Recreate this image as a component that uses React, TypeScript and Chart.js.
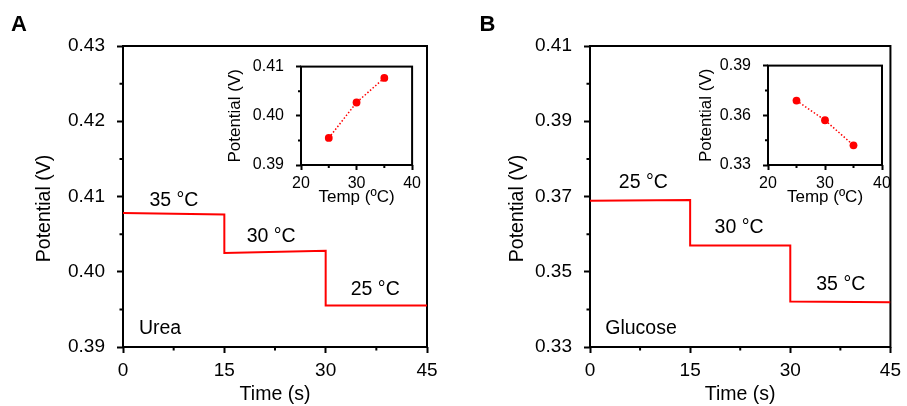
import React, { useEffect, useRef } from 'react';
import { Chart, registerables } from 'chart.js';

Chart.register(...registerables);

const FONT = '"Liberation Sans", Arial, Helvetica, sans-serif';
const RED = 'rgb(255, 0, 0)';

// ---------- Panel A (Urea) ----------
const timeA = [0, 15, 15, 30, 30, 45];
const potA = [0.4078, 0.4076, 0.4025, 0.4028, 0.3955, 0.3955];
const yTicksA = [0.39, 0.4, 0.41, 0.42, 0.43];
const yMinorA = [0.395, 0.405, 0.415, 0.425];
const annoTextA = ['35 °C', '30 °C', '25 °C', 'Urea'];
const annoXA = [7.54, 21.93, 37.34, 5.48];
const annoYA = [0.4088, 0.40394, 0.39695, 0.39177];

const insetTempA = [25, 30, 35];
const insetPotA = [0.3955, 0.4027, 0.4077];
const insetYTicksA = [0.39, 0.4, 0.41];
const insetYMinorA = [0.395, 0.405];

// ---------- Panel B (Glucose) ----------
const timeB = [0, 15, 15, 30, 30, 45];
const potB = [0.3689, 0.3691, 0.357, 0.357, 0.3421, 0.3419];
const yTicksB = [0.33, 0.35, 0.37, 0.39, 0.41];
const yMinorB = [0.34, 0.36, 0.38, 0.4];
const annoTextB = ['25 °C', '30 °C', '35 °C', 'Glucose'];
const annoXB = [7.99, 22.33, 37.56, 7.64];
const annoYB = [0.37223, 0.36028, 0.34522, 0.33353];

const insetTempB = [25, 30, 35];
const insetPotB = [0.3689, 0.357, 0.3419];
const insetYTicksB = [0.33, 0.36, 0.39];
const insetYMinorB = [0.345, 0.375];

// ---------- shared axes ----------
const timeTicks = [0, 15, 30, 45];
const timeMinor = [7.5, 22.5, 37.5];
const tempTicks = [20, 30, 40];
const tempMinor = [25, 35];

const decor = {
  id: 'decor',
  beforeDatasetsDraw(chart: any, _a: any, o: any) {
    const { ctx, chartArea: a } = chart;
    const xs = chart.scales.x;
    const ys = chart.scales.y;
    ctx.save();
    ctx.strokeStyle = '#000';
    ctx.lineWidth = o.frameWidth;
    ctx.strokeRect(a.left, a.top, a.right - a.left, a.bottom - a.top);
    ctx.lineWidth = o.tickWidth;
    ctx.beginPath();
    o.xMinor.forEach((v: number) => {
      const p = xs.getPixelForValue(v);
      ctx.moveTo(p, a.bottom);
      ctx.lineTo(p, a.bottom + o.minorLen);
    });
    o.yMinor.forEach((v: number) => {
      const p = ys.getPixelForValue(v);
      ctx.moveTo(a.left, p);
      ctx.lineTo(a.left - o.minorLen, p);
    });
    ctx.stroke();
    ctx.restore();
  },
  afterDraw(chart: any, _a: any, o: any) {
    const { ctx, chartArea: a } = chart;
    const xs = chart.scales.x;
    const ys = chart.scales.y;
    ctx.save();
    ctx.fillStyle = '#000';
    ctx.font = `${o.titleSize}px ${FONT}`;
    ctx.textAlign = 'center';
    ctx.textBaseline = 'middle';
    ctx.fillText(o.xTitle, (a.left + a.right) / 2, a.bottom + o.xTitleDy);
    ctx.save();
    ctx.translate(a.left + o.yTitleDx, (a.top + a.bottom) / 2 + o.yTitleDy);
    ctx.rotate(-Math.PI / 2);
    ctx.fillText(o.yTitle, 0, 0);
    ctx.restore();
    ctx.font = `${o.annoSize}px ${FONT}`;
    ctx.textBaseline = 'alphabetic';
    (o.annoText || []).forEach((t: string, i: number) => {
      ctx.fillText(t, xs.getPixelForValue(o.annoX[i]), ys.getPixelForValue(o.annoY[i]));
    });
    if (o.panel) {
      ctx.font = `bold 22px ${FONT}`;
      ctx.textAlign = 'left';
      ctx.fillText(o.panel.text, o.panel.x, o.panel.y);
    }
    ctx.restore();
  },
};

type Spec = {
  left: number; top: number; width: number; height: number;
  xv: number[]; yv: number[]; inset: boolean;
  xMin: number; xMax: number; yMin: number; yMax: number;
  xTicks: number[]; yTicks: number[]; xMinor: number[]; yMinor: number[];
  yDigits: number;
  yAxisWidth: number; xAxisHeight: number; padTop: number; padRight: number;
  tickSize: number; titleSize: number; tickLen: number; minorLen: number;
  yLabelPad: number; xLabelPad: number;
  xTitle: string; yTitle: string; yTitleDx: number; yTitleDy: number; xTitleDy: number;
  annoText?: string[]; annoX?: number[]; annoY?: number[];
  panel?: { text: string; x: number; y: number };
};

function Plot({ s }: { s: Spec }) {
  const ref = useRef<HTMLCanvasElement | null>(null);
  useEffect(() => {
    if (!ref.current) return;
    const data = s.xv.map((x, i) => ({ x, y: s.yv[i] }));
    const chart = new Chart(ref.current, {
      type: 'scatter',
      data: {
        datasets: [
          {
            data,
            showLine: true,
            borderColor: RED,
            borderWidth: s.inset ? 1.5 : 2,
            borderDash: s.inset ? [1.5, 2] : [],
            pointRadius: s.inset ? 3.9 : 0,
            pointBackgroundColor: RED,
            pointBorderWidth: 0,
            tension: 0,
          },
        ],
      },
      options: {
        animation: false,
        responsive: false,
        devicePixelRatio: 1,
        layout: { padding: { top: s.padTop, right: s.padRight, left: 0, bottom: 0 } },
        plugins: {
          legend: { display: false },
          tooltip: { enabled: false },
          decor: {
            frameWidth: 2,
            tickWidth: 2,
            minorLen: s.minorLen,
            xMinor: s.xMinor,
            yMinor: s.yMinor,
            titleSize: s.titleSize,
            annoSize: 19.5,
            xTitle: s.xTitle,
            yTitle: s.yTitle,
            yTitleDx: s.yTitleDx,
            yTitleDy: s.yTitleDy,
            xTitleDy: s.xTitleDy,
            annoText: s.annoText || [],
            annoX: s.annoX || [],
            annoY: s.annoY || [],
            panel: s.panel,
          },
        } as any,
        scales: {
          x: {
            type: 'linear',
            min: s.xMin,
            max: s.xMax,
            afterBuildTicks: (sc: any) => {
              sc.ticks = s.xTicks.map((v) => ({ value: v }));
            },
            afterFit: (sc: any) => {
              sc.height = s.xAxisHeight;
            },
            grid: {
              display: true,
              drawOnChartArea: false,
              drawTicks: true,
              tickLength: s.tickLen,
              tickWidth: 2,
              tickColor: '#000',
            },
            border: { display: false },
            ticks: {
              autoSkip: false,
              maxRotation: 0,
              color: '#000',
              padding: s.xLabelPad,
              font: { size: s.tickSize, family: FONT },
              callback: (v: any) => String(v),
            },
          },
          y: {
            type: 'linear',
            min: s.yMin,
            max: s.yMax,
            afterBuildTicks: (sc: any) => {
              sc.ticks = s.yTicks.map((v) => ({ value: v }));
            },
            afterFit: (sc: any) => {
              sc.width = s.yAxisWidth;
            },
            grid: {
              display: true,
              drawOnChartArea: false,
              drawTicks: true,
              tickLength: s.tickLen,
              tickWidth: 2,
              tickColor: '#000',
            },
            border: { display: false },
            ticks: {
              autoSkip: false,
              color: '#000',
              padding: s.yLabelPad,
              font: { size: s.tickSize, family: FONT },
              callback: (v: any) => Number(v).toFixed(s.yDigits),
            },
          },
        },
      } as any,
      plugins: [decor as any],
    });
    return () => chart.destroy();
  }, [s]);
  return (
    <canvas
      ref={ref}
      width={s.width}
      height={s.height}
      style={{ position: 'absolute', left: s.left, top: s.top, width: s.width, height: s.height }}
    />
  );
}

const mainCommon = {
  inset: false,
  xMin: 0, xMax: 45,
  xTicks: timeTicks, xMinor: timeMinor,
  yDigits: 2,
  xAxisHeight: 59, padTop: 46,
  tickSize: 19, titleSize: 19.5, tickLen: 6, minorLen: 3.5,
  yLabelPad: 12, xLabelPad: 6,
  xTitle: 'Time (s)', yTitle: 'Potential (V)', yTitleDy: 12, xTitleDy: 48,
};

const insetCommon = {
  inset: true,
  xMin: 20, xMax: 40,
  xTicks: tempTicks, xMinor: tempMinor,
  yDigits: 2,
  padTop: 14,
  tickSize: 16, titleSize: 17, tickLen: 5, minorLen: 3,
  yLabelPad: 12, xLabelPad: 4,
  xTitle: 'Temp (ºC)', yTitle: 'Potential (V)', yTitleDy: 0, xTitleDy: 32,
};

const specMainA: Spec = {
  ...mainCommon,
  left: 0, top: 0, width: 453, height: 406,
  xv: timeA, yv: potA,
  yMin: 0.39, yMax: 0.43, yTicks: yTicksA, yMinor: yMinorA,
  yAxisWidth: 123, padRight: 26, yTitleDx: -78.5,
  annoText: annoTextA, annoX: annoXA, annoY: annoYA,
  panel: { text: 'A', x: 11, y: 30.5 },
};

const specMainB: Spec = {
  ...mainCommon,
  left: 453, top: 0, width: 454, height: 406,
  xv: timeB, yv: potB,
  yMin: 0.33, yMax: 0.41, yTicks: yTicksB, yMinor: yMinorB,
  yAxisWidth: 137, padRight: 13, yTitleDx: -72,
  annoText: annoTextB, annoX: annoXB, annoY: annoYB,
  panel: { text: 'B', x: 26.5, y: 30.5 },
};

const specInsetA: Spec = {
  ...insetCommon,
  left: 215, top: 45, width: 210, height: 170,
  xv: insetTempA, yv: insetPotA,
  yMin: 0.39, yMax: 0.41, yTicks: insetYTicksA, yMinor: insetYMinorA,
  yAxisWidth: 86, xAxisHeight: 50, padRight: 11, yTitleDx: -65.5,
};

const specInsetB: Spec = {
  ...insetCommon,
  left: 682, top: 44, width: 215, height: 170,
  xv: insetTempB, yv: insetPotB,
  yMin: 0.33, yMax: 0.39, yTicks: insetYTicksB, yMinor: insetYMinorB,
  yAxisWidth: 86, xAxisHeight: 49, padRight: 15, yTitleDx: -61.7,
};

export default function App() {
  return (
    <div style={{ position: 'absolute', left: 0, top: 0, width: 907, height: 406, background: '#fff', overflow: 'hidden' }}>
      <Plot s={specMainA} />
      <Plot s={specMainB} />
      <Plot s={specInsetA} />
      <Plot s={specInsetB} />
    </div>
  );
}
